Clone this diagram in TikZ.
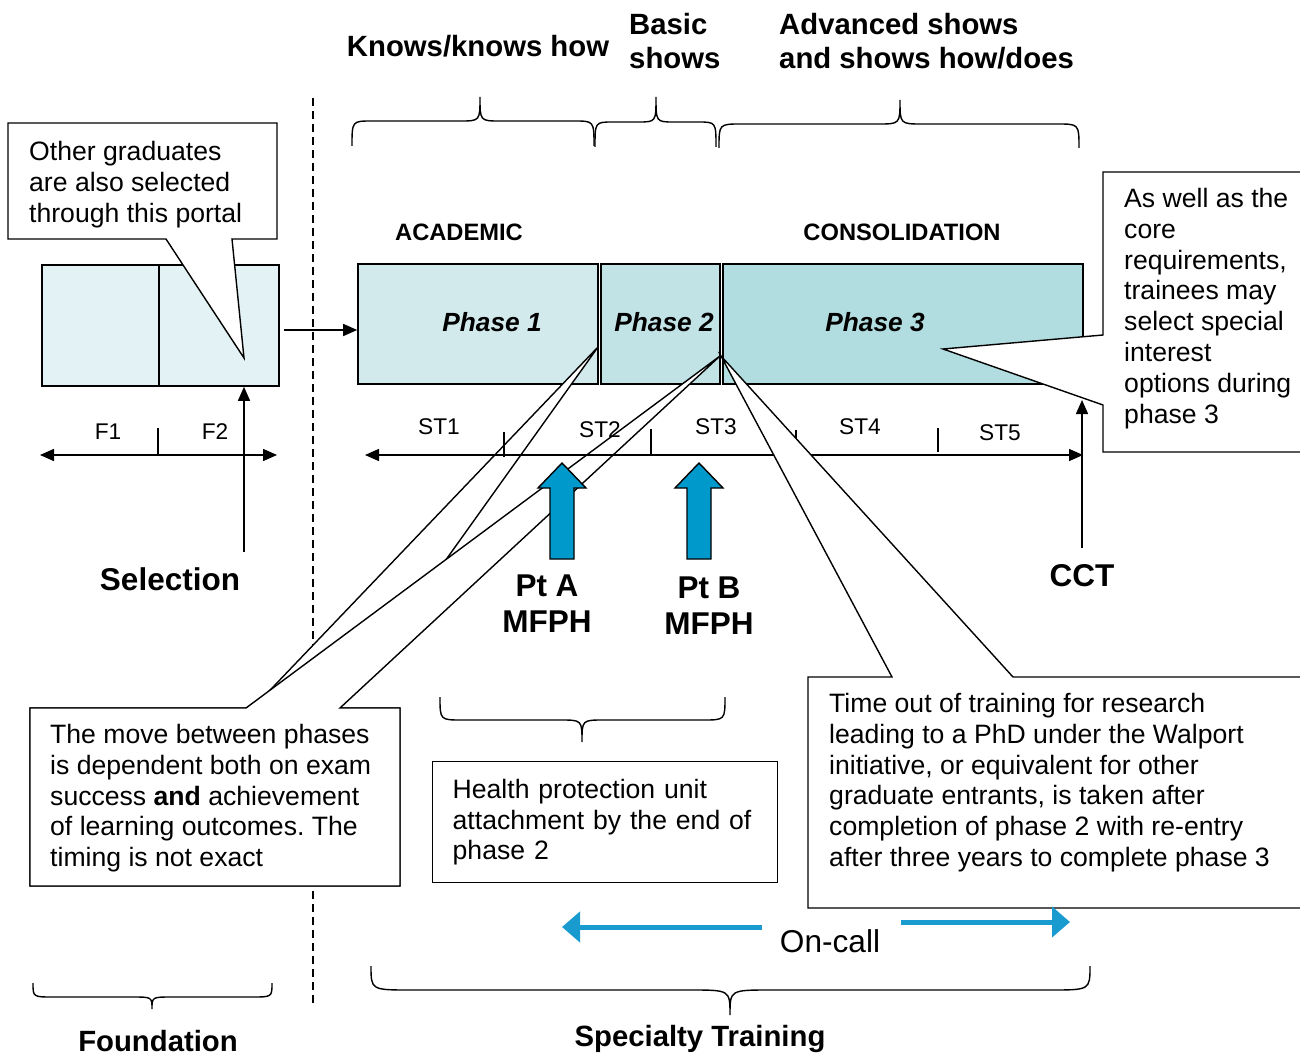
\documentclass[tikz,border=0pt]{standalone}
\usepackage{fontspec}
\setmainfont{Liberation Sans}
\usetikzlibrary{arrows.meta}
\frenchspacing

\definecolor{fndfill}{HTML}{E3F2F4}
\definecolor{phaseone}{HTML}{D3EAED}
\definecolor{phasetwo}{HTML}{C2E3E6}
\definecolor{phasethree}{HTML}{B2DDE0}
\definecolor{ptblue}{HTML}{0099CC}
\definecolor{callblue}{HTML}{1A9BCF}

% curly brace: x1, x2, tip x, end y, flat y, tip y, curl size
\newcommand{\groupbrace}[7]{%
  \draw[line width=1.4pt] (#1,#4) .. controls (#1,#5) .. (#1+#7,#5) -- (#3-#7,#5)
    .. controls (#3,#5) .. (#3,#6) .. controls (#3,#5) .. (#3+#7,#5) -- (#2-#7,#5)
    .. controls (#2,#5) .. (#2,#4);}

\begin{document}
\begin{tikzpicture}[x=1pt, y=-1pt,
    stagebox/.style={draw, line width=1.6pt, inner sep=0pt, minimum height=120pt},
    calloutbox/.style={draw, fill=white, line width=1.4pt},
    body/.style={font=\fontsize{26.6}{30.8}\selectfont, align=left, inner sep=0pt, anchor=north west},
    headlbl/.style={font=\bfseries\fontsize{29.3}{34}\selectfont},
    bigbold/.style={font=\bfseries\fontsize{31.5}{36}\selectfont, align=center},
    taglbl/.style={font=\bfseries\fontsize{23.7}{28}\selectfont},
    phaselbl/.style={font=\bfseries\itshape\fontsize{26.3}{30}\selectfont},
    stlbl/.style={font=\fontsize{22.7}{26}\selectfont},
    arr/.style={-{Triangle[length=14pt,width=12pt]}, line width=1.5pt},
    dbl/.style={{Triangle[length=14pt,width=12pt]}-{Triangle[length=14pt,width=12pt]}, line width=1.5pt},
    yeartick/.style={line width=1.5pt},
    ptarrow/.style={draw, fill=ptblue, line width=1.4pt},
    oncall/.style={-{Triangle[length=18pt,width=30pt]}, line width=5pt, draw=callblue}]

  \useasboundingbox (0,0) rectangle (1300,1056);

% foundation / specialty divider
  \draw[line width=1.3pt, dash pattern=on 8pt off 5pt] (313,98) -- (313,1003);

% foundation years and the three phases
  \node[stagebox, fill=fndfill, minimum width=117pt, minimum height=121pt] (f1box) at (100.5,325.5) {};
  \node[stagebox, fill=fndfill, minimum width=120pt, minimum height=121pt] (f2box) at (219,325.5) {};
  \node[stagebox, fill=phaseone, minimum width=240pt] (p1box) at (478,324) {};
  \node[stagebox, fill=phasetwo, minimum width=119pt] (p2box) at (660.5,324) {};
  \node[stagebox, fill=phasethree, minimum width=360pt] (p3box) at (903,324) {};

% callouts on the left
  \draw[calloutbox] (8,123) -- (277,123) -- (277,239) -- (232,239) -- (244,358)
    -- (166,239) -- (8,239) -- cycle;
  \draw[calloutbox] (30,708) -- (253,708) -- (598,347) -- (340,708) -- (400,708)
    -- (400,886) -- (30,886) -- cycle;
  \draw[calloutbox] (30,708) -- (246,708) -- (720,356) -- (340,708) -- (400,708)
    -- (400,886) -- (30,886) -- cycle;

% time lines
  \draw[dbl] (40,455) -- (277,455);
  \draw[yeartick] (158,428) -- (158,455);
  \draw[dbl] (365,455) -- (1083,455);
  \foreach \x/\top/\bot in {504/432/457, 651/429/455, 796/430/455, 938/428/452}
    \draw[yeartick] (\x,\top) -- (\x,\bot);

% callouts on the right
  \draw[calloutbox] (808,677) -- (892,677) -- (721,356) -- (1013,677) -- (1310,677)
    -- (1310,908) -- (808,908) -- cycle;
  \draw[calloutbox] (1103,172) -- (1310,172) -- (1310,452) -- (1103,452) -- (1103,405)
    -- (943,349) -- (1103,335) -- cycle;
  \node[calloutbox, anchor=north west, minimum width=345pt, minimum height=121pt,
    text width=305pt, inner xsep=20pt, align=left,
    font=\fontsize{26.6}{30.8}\selectfont] (hpu) at (432,761)
    {Health protection unit\\attachment by the end of\\phase 2};

% braces
  \groupbrace{352}{594}{480}{146}{121}{97}{20}
  \groupbrace{595}{716}{656}{147}{122}{97}{18}
  \groupbrace{719}{1079}{900}{148}{124}{100}{22}
  \groupbrace{440}{725}{582}{697}{720}{742}{22}
  \groupbrace{33}{272}{152}{983}{997}{1009}{20}
  \groupbrace{371}{1090}{730}{966}{990}{1015}{40}

% arrows
  \draw[arr, shorten <=4pt] (f2box.east |- 0,330) -- (p1box.west |- 0,330);
  \coordinate (selfoot) at (244,552);
  \draw[arr] (selfoot) -- (selfoot |- f2box.south);
  \coordinate (cctfoot) at (1082,548);
  \coordinate (ccttip) at (1082,400);
  \draw[arr] (cctfoot) -- (ccttip);
  \foreach \x in {562,699}
    \draw[ptarrow] (\x-12,559) -- (\x-12,488) -- (\x-24,488) -- (\x,463)
      -- (\x+24,488) -- (\x+12,488) -- (\x+12,559) -- cycle;
  \draw[oncall] (762,927) -- (562,927);
  \draw[oncall] (901,922) -- (1070,922);

% labels
  \node[headlbl] (knows) at (478,46) {Knows/knows how};
  \node[headlbl, align=left, inner sep=0pt, anchor=north west] (basic) at (629,13.5) {Basic\\shows};
  \node[headlbl, align=left, inner sep=0pt, anchor=north west] (adv) at (779,13.5)
    {Advanced shows\\and shows how/does};
  \node[taglbl] (acad) at (459,232) {ACADEMIC};
  \node[taglbl] (consol) at (902,232) {CONSOLIDATION};
  \node[phaselbl] (ph1) at (492,322) {Phase 1};
  \node[phaselbl] (ph2) at (664,322) {Phase 2};
  \node[phaselbl] (ph3) at (875,322) {Phase 3};
  \node[stlbl] (fy1) at (108,432) {F1};
  \node[stlbl] (fy2) at (215,432) {F2};
  \node[stlbl] (st1) at (439,427) {ST1};
  \node[stlbl] (st2) at (600,430) {ST2};
  \node[stlbl] (st3) at (716,427) {ST3};
  \node[stlbl] (st4) at (860,427) {ST4};
  \node[stlbl] (st5) at (1000,433) {ST5};
  \node[bigbold] (sel) at (170,579) {Selection};
  \node[bigbold] (cct) at (1082,576) {CCT};
  \node[bigbold] (pta) at (547,604) {Pt A\\MFPH};
  \node[bigbold] (ptb) at (709,606) {Pt B\\MFPH};
  \node[font=\fontsize{31.6}{36}\selectfont] (call) at (830,941) {On-call};
  \node[headlbl] (found) at (158,1041) {Foundation};
  \node[headlbl] (spec) at (700,1039) {Specialty Training};

  \node[body] (othertxt) at (29,141) {Other graduates\\are also selected\\through this portal};
  \node[body] (optstxt) at (1124,188) {As well as the\\core\\requirements,\\trainees may\\select special\\interest\\options during\\phase 3};
  \node[body] (movetxt) at (50,724) {The move between phases\\is dependent both on exam\\success \textbf{and} achievement\\of learning outcomes. The\\timing is not exact};
  \node[body] (phdtxt) at (829,693) {Time out of training for research\\leading to a PhD under the Walport\\initiative, or equivalent for other\\graduate entrants, is taken after\\completion of phase 2 with re-entry\\after three years to complete phase 3};

\end{tikzpicture}
\end{document}
